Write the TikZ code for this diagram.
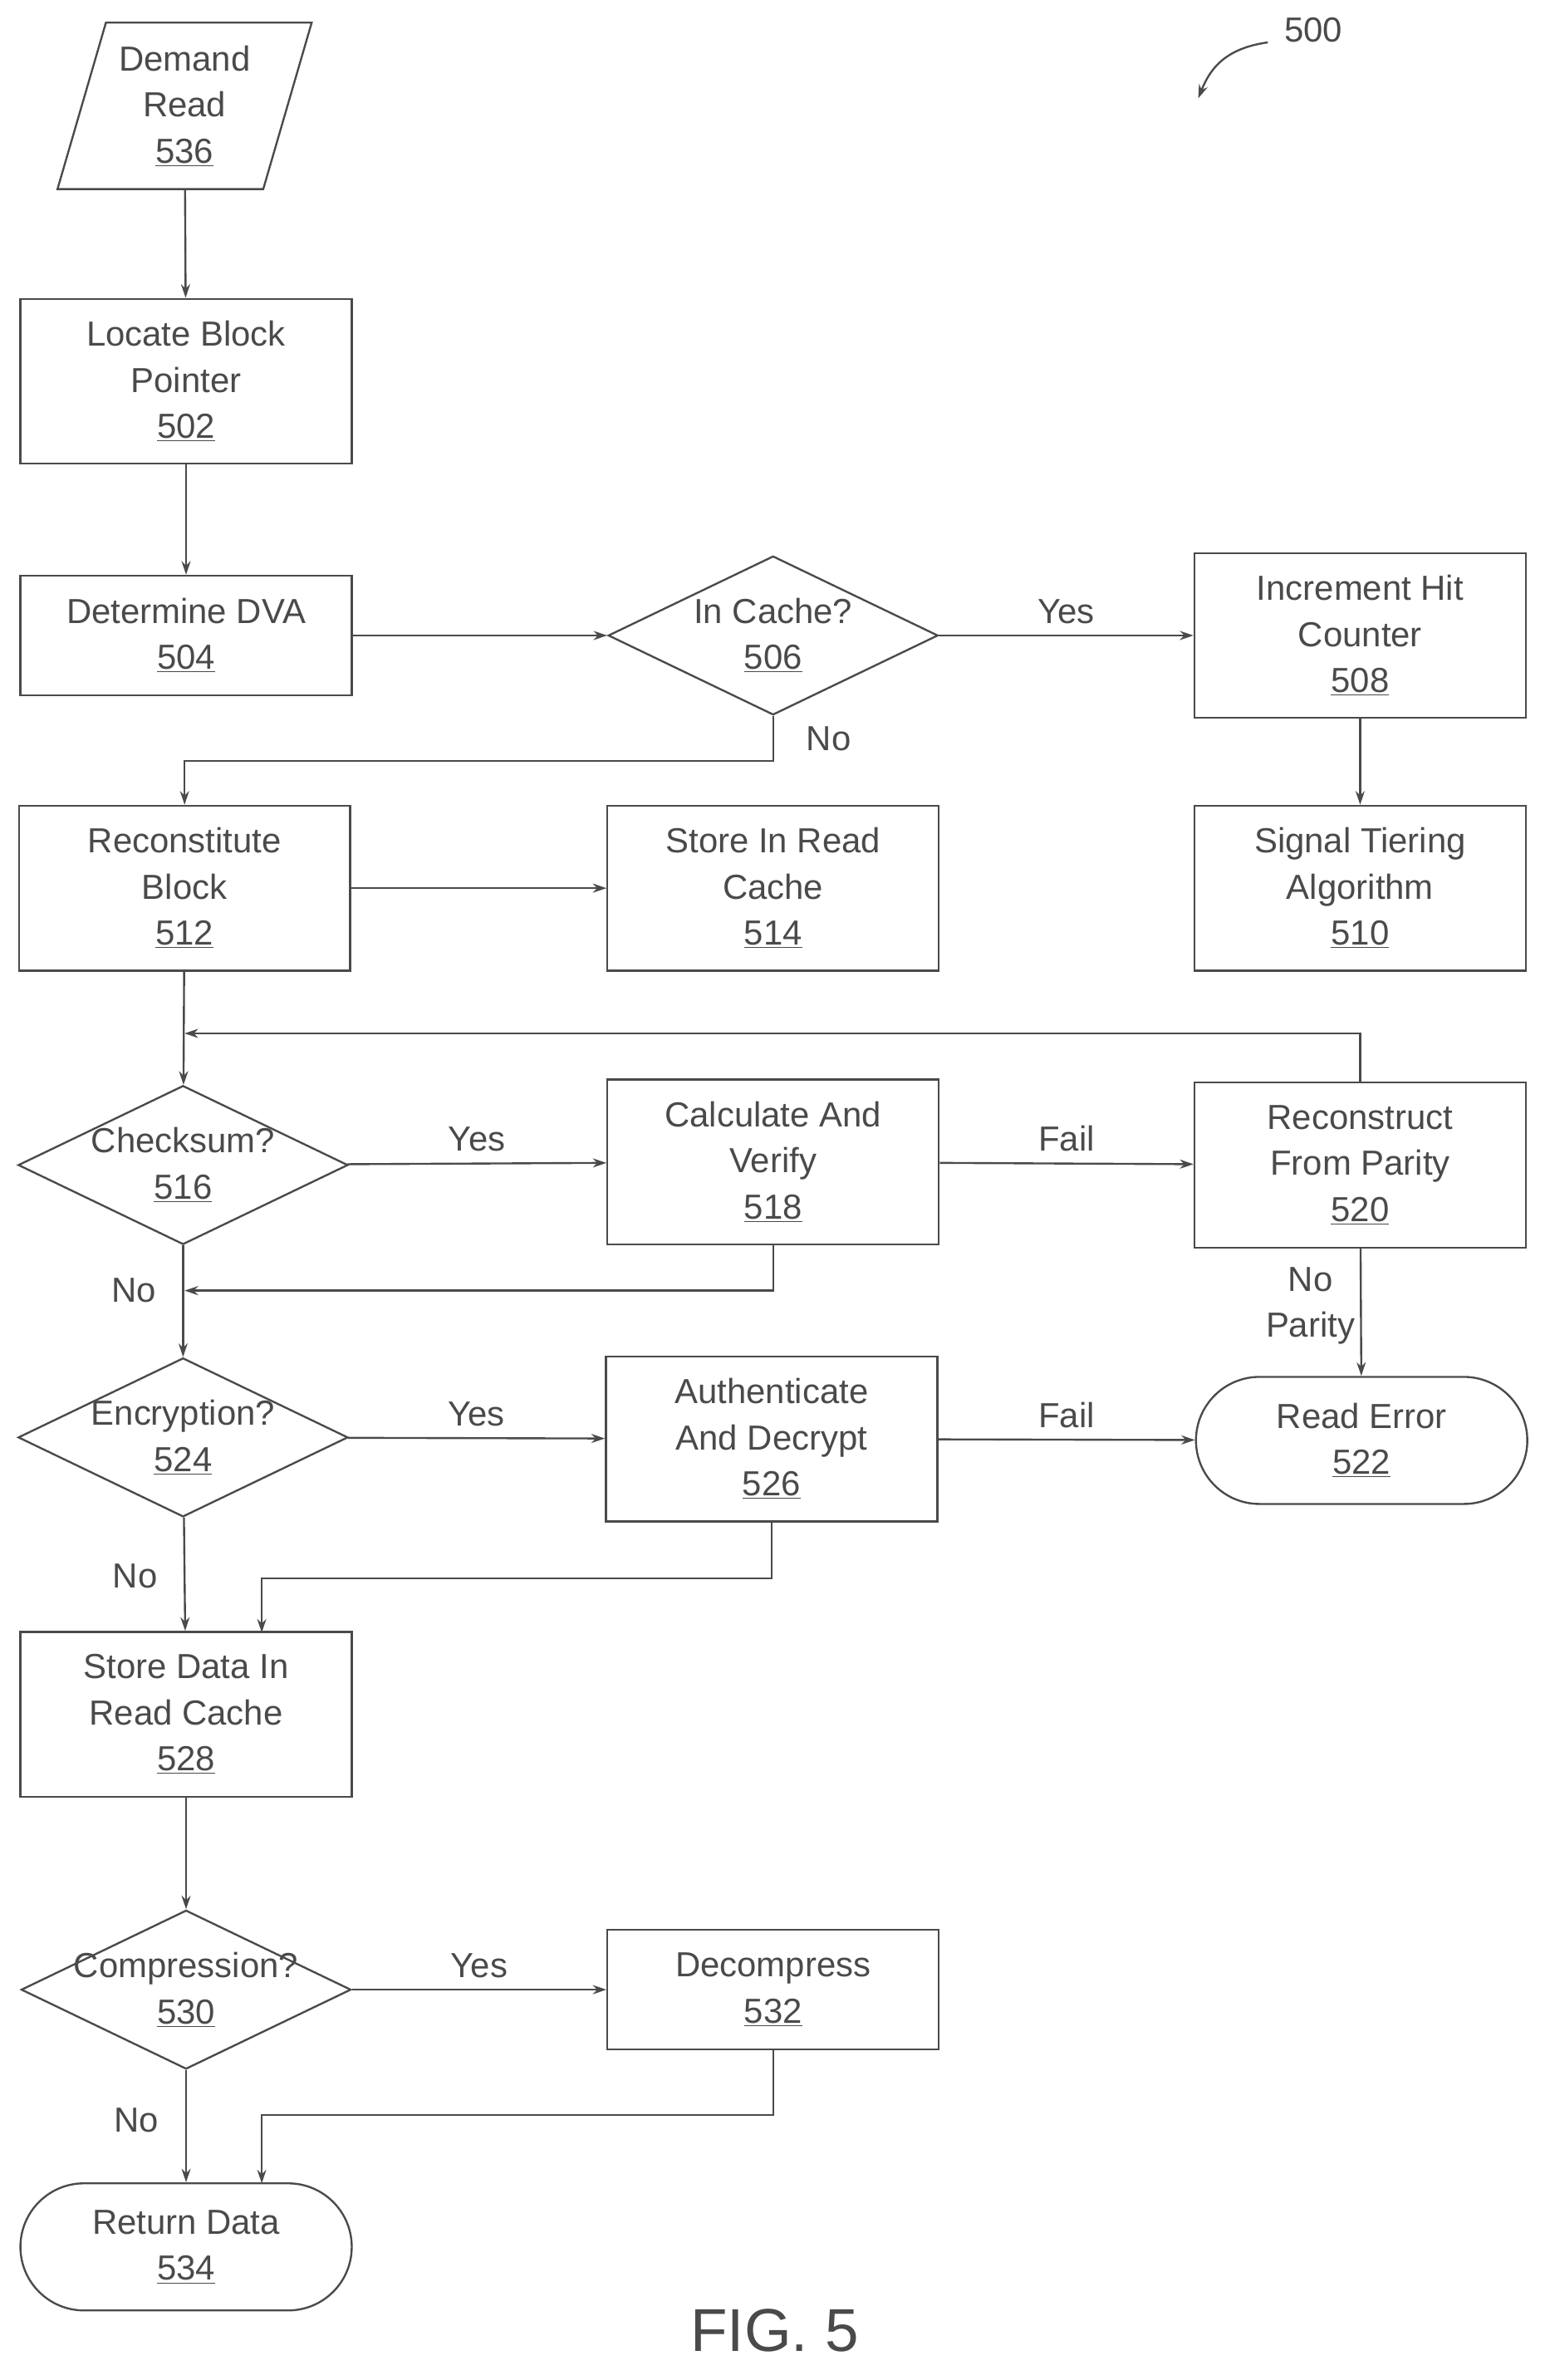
\documentclass[tikz,border=0pt]{standalone}
\usepackage{fontspec}
\setmainfont{Liberation Sans}
\usetikzlibrary{arrows.meta,shapes.geometric}
\definecolor{ink}{HTML}{4A4A4A}
\newcommand{\num}[1]{\underline{#1}}

\begin{document}
\begin{tikzpicture}[x=1pt,y=1pt,yscale=-1,
  every node/.style={text=ink, font=\fontsize{23}{30.5}\selectfont},
  box/.style={draw=ink, line width=1.3pt, minimum width=219, minimum height=109, align=center, inner sep=0},
  flat/.style={box, minimum height=79},
  term/.style={box, minimum height=84, rounded corners=42},
  dec/.style={draw=ink, line width=1.3pt, diamond, minimum width=218, minimum height=105, inner sep=0, aspect=2.1},
  lbl/.style={align=center},
  ->, >={Stealth[length=9pt,width=6pt]}, line width=1.3pt, draw=ink]
  \useasboundingbox (0,0) rectangle (1024,1573);
  % start
  \node[lbl, minimum width=136, minimum height=110] (dr) at (122,70) {Demand\\Read\\\num{536}};
  \draw[-, draw=ink] (70,15) -- (206,15) -- (174,125) -- (38,125) -- cycle;
  \node[box] (lb) at (123,252) {Locate Block\\Pointer\\\num{502}};
  \node[flat] (dva) at (123,420) {Determine DVA\\\num{504}};
  \node[dec, label={[lbl]center:In Cache?\\\num{506}}] (ic) at (511,420) {};
  \node[box] (hit) at (899,420) {Increment Hit\\Counter\\\num{508}};
  \node[box] (sig) at (899,587) {Signal Tiering\\Algorithm\\\num{510}};
  \node[box] (rb) at (122,587) {Reconstitute\\Block\\\num{512}};
  \node[box] (src) at (511,587) {Store In Read\\Cache\\\num{514}};
  \node[dec, label={[lbl]center:Checksum?\\\num{516}}] (cs) at (121,770) {};
  \node[box] (cv) at (511,768) {Calculate And\\Verify\\\num{518}};
  \node[box] (rp) at (899,770) {Reconstruct\\From Parity\\\num{520}};
  \node[term] (re) at (900,952) {Read Error\\\num{522}};
  \node[dec, label={[lbl]center:Encryption?\\\num{524}}] (enc) at (121,950) {};
  \node[box] (ad) at (510,951) {Authenticate\\And Decrypt\\\num{526}};
  \node[box] (sd) at (123,1133) {Store Data In\\Read Cache\\\num{528}};
  \node[dec, label={[lbl]center:Compression?\\\num{530}}] (cmp) at (123,1315) {};
  \node[flat] (dc) at (511,1315) {Decompress\\\num{532}};
  \node[term] (ret) at (123,1485) {Return Data\\\num{534}};
  % flow
  \draw (dr) -- (lb);
  \draw (lb) -- (dva);
  \draw (dva) -- (ic);
  \draw (ic) -- node[above=4pt] {Yes} (hit);
  \draw (ic.south) |- (122,503) node[pos=0.25, right=18pt] {No} -- (rb);
  \draw (hit) -- (sig);
  \draw (rb) -- (src);
  \draw (rb) -- (cs);
  \draw (rp.north) |- (122,683);
  \draw (cs) -- node[above=4pt] {Yes} (cv);
  \draw (cv) -- node[above=4pt] {Fail} (rp);
  \draw (rp) -- node[left, lbl, pos=0.45] {No\\Parity} (re);
  \draw (cv.south) |- (122,853);
  \draw (cs) -- node[left=14pt, pos=0.4] {No} (enc);
  \draw (enc) -- node[above=4pt] {Yes} (ad);
  \draw (ad) -- node[above=4pt] {Fail} (re);
  \draw (ad.south) |- (173,1043) -- (173,1079);
  \draw (enc) -- node[left=14pt, pos=0.52] {No} (sd);
  \draw (sd) -- (cmp);
  \draw (cmp) -- node[above=4pt] {Yes} (dc);
  \draw (dc.south) |- (173,1398) -- (173,1443);
  \draw (cmp) -- node[left=14pt, pos=0.45] {No} (ret);
  % figure labels
  \node (n500) at (868,20) {500};
  \draw (838,28) .. controls (810,32) and (800,45) .. (792,65);
  \node[font=\fontsize{40}{40}\selectfont] (fig) at (512,1540) {FIG. 5};
\end{tikzpicture}
\end{document}
